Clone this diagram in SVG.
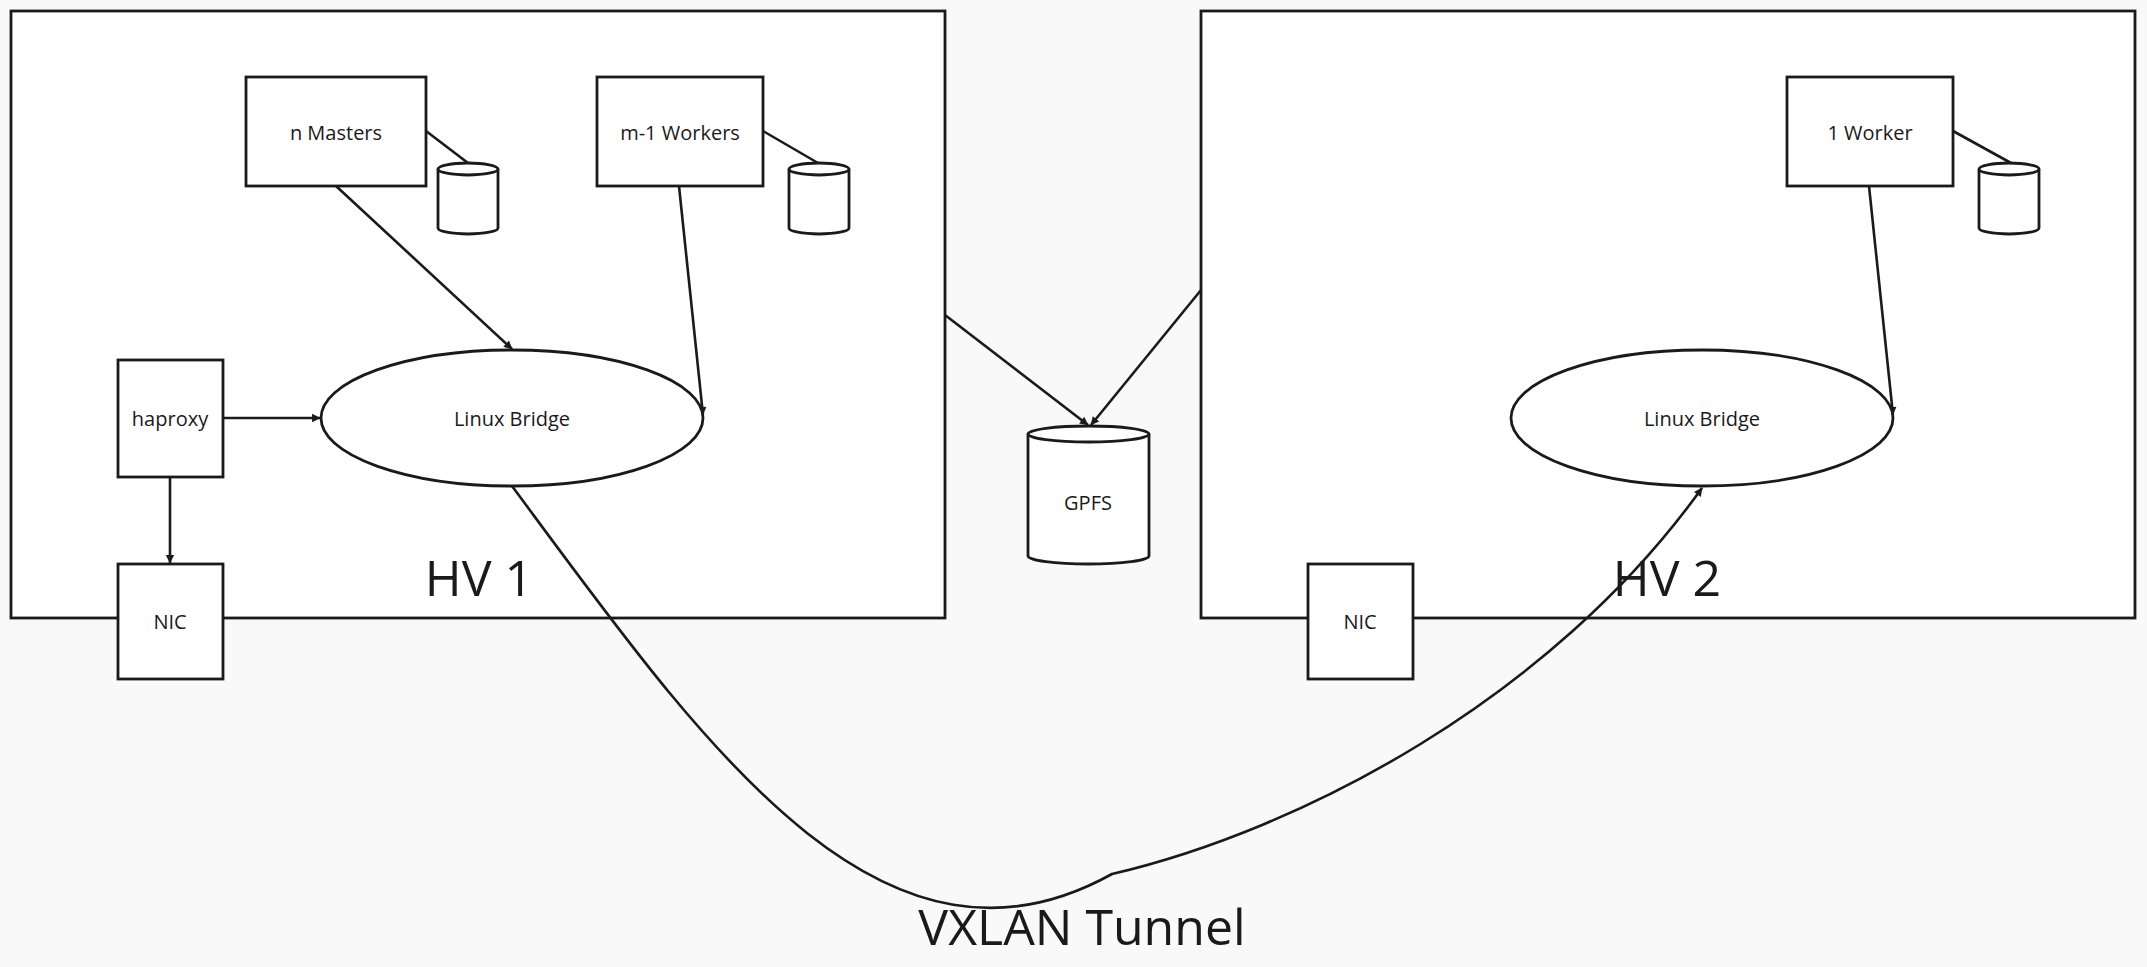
<svg xmlns="http://www.w3.org/2000/svg" width="2147" height="967" viewBox="0 0 2147 967">
<style>
.b{fill:#fff;stroke:#1a1a1a;stroke-width:2.8}
.l{fill:none;stroke:#1a1a1a;stroke-width:2.6}
text{font-family:"Open Sans","Liberation Sans",sans-serif;fill:#1a1a1a;text-anchor:middle;dominant-baseline:central}
.t{font-size:20px}
.h{font-size:50px}
</style>
<defs>
<marker id="a" viewBox="0 0 10 10" refX="9" refY="5" markerWidth="6" markerHeight="6" markerUnits="userSpaceOnUse" orient="auto" style="overflow:visible"><path d="M0,0L10,5L0,10z" fill="#1a1a1a" transform="scale(1.4) translate(-3,-1.4)"/></marker>
</defs>
<rect width="2147" height="967" fill="#f9f9f9"/>
<g id="hv1"><rect class="b" x="11" y="11" width="934" height="607"/><text class="h" x="479" y="577">HV 1</text></g>
<g id="hv2"><rect class="b" x="1201" y="11" width="934" height="607"/><text class="h" x="1667" y="577">HV 2</text></g>
<g id="conn">
<path class="l" d="M426,131L468,163M763,131L818,163M1953,131L2011,163"/>
<path class="l" marker-end="url(#a)" d="M336,186L512,349"/>
<path class="l" marker-end="url(#a)" d="M679,186L703,415"/>
<path class="l" marker-end="url(#a)" d="M223,418L320,418"/>
<path class="l" marker-end="url(#a)" d="M170,477L170,563"/>
<path class="l" marker-end="url(#a)" d="M945,315L1088,425"/>
<path class="l" marker-end="url(#a)" d="M1201,290L1091,425"/>
<path class="l" marker-end="url(#a)" d="M1869,186L1893,415"/>
<path class="l" marker-end="url(#a)" d="M512,486C700,740 880,1003 1112,874C1300,830 1550,700 1702,488"/>
</g>
<g id="masters"><rect class="b" x="246" y="77" width="180" height="109"/><text class="t" x="336" y="132">n Masters</text></g>
<g id="workers"><rect class="b" x="597" y="77" width="166" height="109"/><text class="t" x="680" y="132">m-1 Workers</text></g>
<g id="worker1"><rect class="b" x="1787" y="77" width="166" height="109"/><text class="t" x="1870" y="132">1 Worker</text></g>
<g id="db1"><path class="b" d="M438,169V228A30,6 0 0 0 498,228V169"/><ellipse class="b" cx="468" cy="169" rx="30" ry="6"/></g>
<g id="db2"><path class="b" d="M789,169V228A30,6 0 0 0 849,228V169"/><ellipse class="b" cx="819" cy="169" rx="30" ry="6"/></g>
<g id="db3"><path class="b" d="M1979,169V228A30,6 0 0 0 2039,228V169"/><ellipse class="b" cx="2009" cy="169" rx="30" ry="6"/></g>
<g id="haproxy"><rect class="b" x="118" y="360" width="105" height="117"/><text class="t" x="170" y="418">haproxy</text></g>
<g id="lb1"><ellipse class="b" cx="512" cy="418" rx="191" ry="68"/><text class="t" x="512" y="418">Linux Bridge</text></g>
<g id="lb2"><ellipse class="b" cx="1702" cy="418" rx="191" ry="68"/><text class="t" x="1702" y="418">Linux Bridge</text></g>
<g id="nic1"><rect class="b" x="118" y="564" width="105" height="115"/><text class="t" x="170" y="621">NIC</text></g>
<g id="nic2"><rect class="b" x="1308" y="564" width="105" height="115"/><text class="t" x="1360" y="621">NIC</text></g>
<g id="gpfs"><path class="b" d="M1028,434V556A60.5,8 0 0 0 1149,556V434"/><ellipse class="b" cx="1088.5" cy="434" rx="60.5" ry="8"/><text class="t" x="1088" y="502">GPFS</text></g>
<text class="h" x="1082" y="926">VXLAN Tunnel</text>
</svg>
